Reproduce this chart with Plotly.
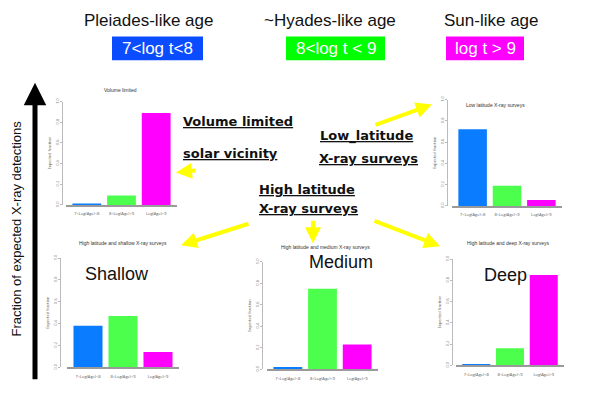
import plotly.graph_objects as go

# page body has an 8px margin, so the figure is drawn 8px in from the window corner
OFF = 8
W, H = 583, 379

# age groups and fraction of expected X-ray detections per survey type
groups = ["7<Log(Age)<8", "8<Log(Age)<9", "Log(Age)>9"]
vol_limited = [0.01, 0.09, 0.89]
low_lat = [0.72, 0.19, 0.056]
high_shallow = [0.38, 0.47, 0.14]
high_medium = [0.02, 0.75, 0.23]
high_deep = [0.005, 0.16, 0.85]

bar_colors = ["#0a7cff", "#4cff4c", "#ff00ff"]
yticks = [0, 0.2, 0.4, 0.6, 0.8, 1.0]


def px(x):
    return (x - OFF) / W


def py(y):
    return 1 - (y - OFF) / H


# (values, title, x-left, x-right, y-top(1.0), y-bottom(0), y-axis x, title x, title y)
panels = [
    (vol_limited, "Volume limited", 66, 177, 99, 204, 62, 120, 87),
    (low_lat, "Low latitude X-ray surveys", 452, 562, 97, 205, 447, 495, 102),
    (high_shallow, "High latitude and shallow X-ray surveys", 67, 179, 258, 369, 60, 123, 243),
    (high_medium, "High latitude and medium X-ray surveys", 267, 378, 262, 371, 262, 325, 247),
    (high_deep, "High latitude and deep X-ray surveys", 456, 564, 259, 367, 452, 508, 243),
]

fig = go.Figure()
annotations = []


def label(text, x, y, size, color="#111", family="Liberation Sans", xanchor="center", **kw):
    annotations.append(dict(text=text, x=px(x), y=py(y), xref="paper", yref="paper",
                            xanchor=xanchor, yanchor="middle", showarrow=False,
                            font=dict(size=size, color=color, family=family), **kw))


for i, (vals, title, x0, x1, ytop, ybot, yax, tx, ty) in enumerate(panels):
    n = "" if i == 0 else str(i + 1)
    fig.add_trace(go.Bar(x=groups, y=vals, marker_color=bar_colors,
                         marker_line_width=0, width=0.83,
                         xaxis="x" + n, yaxis="y" + n, showlegend=False))
    fig.layout["xaxis" + n] = dict(
        domain=[px(x0), px(x1)], anchor="y" + n, range=[-0.6, 2.6],
        showline=True, linecolor="#9a9a9a", linewidth=1.5, ticks="",
        tickfont=dict(size=4, color="#555"), ticklabelstandoff=4,
        showgrid=False, zeroline=False, fixedrange=True)
    fig.layout["yaxis" + n] = dict(
        domain=[py(ybot), py(ytop)], anchor="free", position=px(yax),
        range=[0, 1.0], tickvals=yticks, ticktext=["%.1f" % v for v in yticks],
        showline=True, linecolor="#bbb", linewidth=0.6, ticks="outside",
        ticklen=2, tickcolor="#bbb", tickangle=-90,
        tickfont=dict(size=4, color="#777"),
        title=dict(text="Expected fraction", font=dict(size=4, color="#555"), standoff=2),
        showgrid=False, zeroline=False, fixedrange=True)
    label(title, tx, ty, 5, color="#333", family="Liberation Sans")

# age headers and coloured boxes
headers = [
    ("Pleiades-like age", "7<log t<8", 148, 112, 203, "#0a4cff"),
    ("~Hyades-like age", "8<log t < 9", 330, 286, 385, "#00ff00"),
    ("Sun-like age", "log t > 9", 491, 446, 524, "#ff00ff"),
]
shapes = []
for head, box, cx, bx0, bx1, col in headers:
    label(head, cx, 17, 17)
    shapes.append(dict(type="rect", xref="paper", yref="paper",
                       x0=px(bx0), x1=px(bx1), y0=py(57), y1=py(33),
                       fillcolor=col, line=dict(width=0)))
    label(box, (bx0 + bx1) / 2, 45, 17, color="white")

# bold underlined labels
bold = [
    ("Volume limited", 181, 119),
    ("solar vicinity", 181, 152),
    ("Low_latitude", 318, 134),
    ("X-ray surveys", 317, 157),
    ("High latitude", 257, 188),
    ("X-ray surveys", 257, 208),
]
for txt, lx, ly in bold:
    label("<b><u>" + txt + "</u></b>", lx, ly, 13, family="DejaVu Sans", xanchor="left")

for txt, cx, cy in [("Shallow", 117, 274), ("Medium", 341, 262), ("Deep", 505, 275)]:
    label(txt, cx, cy, 18)

# yellow arrows: (tail x, tail y, head x, head y)
arrows = [
    (197, 169, 176, 171),
    (374, 123, 432, 102),
    (250, 223, 181, 245),
    (313, 219, 313, 243),
    (373, 220, 440, 246),
]
for tx_, ty_, hx, hy in arrows:
    annotations.append(dict(x=px(hx), y=py(hy), xref="paper", yref="paper",
                            ax=tx_ - hx, ay=ty_ - hy, showarrow=True, text="",
                            arrowhead=2, arrowsize=0.8, arrowwidth=4, arrowcolor="#ffff00"))

# big vertical arrow and its label
annotations.append(dict(x=px(35), y=py(80), xref="paper", yref="paper", ax=0, ay=298,
                        showarrow=True, text="", arrowhead=2, arrowsize=0.9,
                        arrowwidth=5, arrowcolor="black"))
label("Fraction of expected X-ray detections", 17, 228, 13, textangle=-90)

fig.update_layout(width=W, height=H, margin=dict(l=0, r=0, t=0, b=0),
                  paper_bgcolor="white", plot_bgcolor="white",
                  annotations=annotations, shapes=shapes, bargap=0.17)

fig.write_html("out.html")
